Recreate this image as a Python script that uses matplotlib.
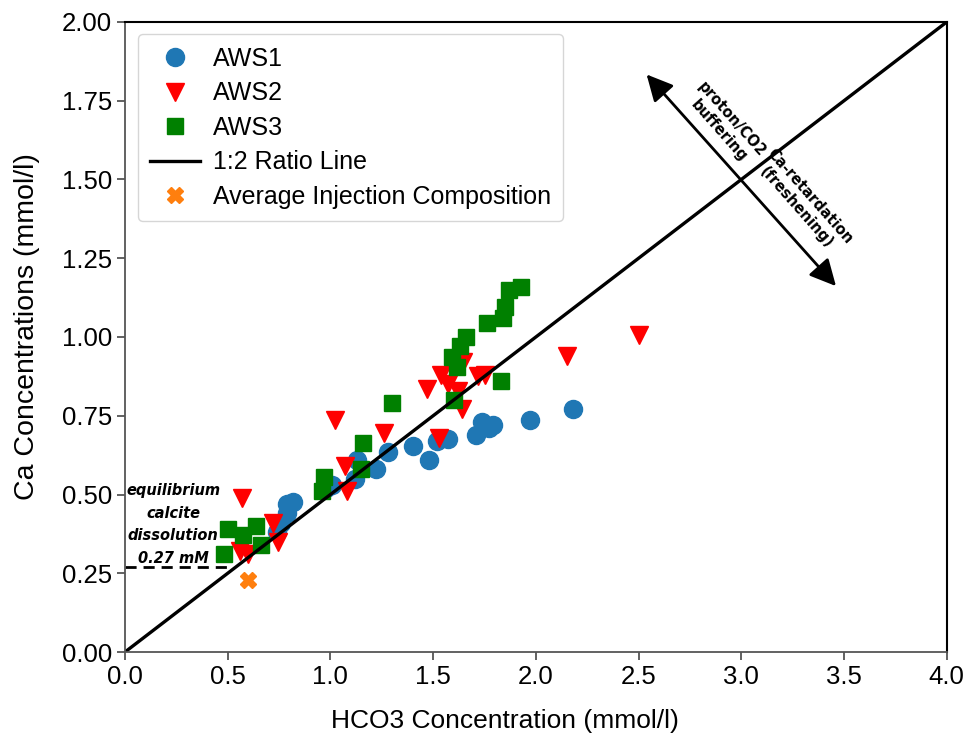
import numpy as np
import matplotlib
matplotlib.use("Agg")
import matplotlib.pyplot as plt

# -----------------------------
# Data
# -----------------------------
aws1_hco3 = [0.74, 0.76, 0.79, 0.79, 0.82, 0.98, 1.01, 1.12, 1.13, 1.22, 1.28,
             1.40, 1.48, 1.52, 1.57, 1.71, 1.74, 1.77, 1.79, 1.97, 2.18]
aws1_ca = [0.38, 0.41, 0.44, 0.47, 0.475, 0.52, 0.53, 0.55, 0.61, 0.58, 0.635,
           0.655, 0.61, 0.67, 0.675, 0.69, 0.73, 0.71, 0.72, 0.735, 0.77]

aws2_hco3 = [0.57, 0.56, 0.60, 0.72, 0.745, 1.02, 1.07, 1.08, 1.26, 1.47, 1.53,
             1.54, 1.57, 1.62, 1.64, 1.645, 1.72, 1.75, 2.15, 2.50]
aws2_ca = [0.49, 0.32, 0.31, 0.41, 0.35, 0.735, 0.59, 0.51, 0.695, 0.835, 0.68,
           0.88, 0.85, 0.83, 0.77, 0.92, 0.875, 0.88, 0.94, 1.005]

aws3_hco3 = [0.48, 0.50, 0.575, 0.64, 0.66, 0.96, 0.97, 1.15, 1.16, 1.30, 1.59,
             1.60, 1.615, 1.63, 1.66, 1.76, 1.83, 1.84, 1.85, 1.87, 1.93]
aws3_ca = [0.31, 0.39, 0.37, 0.40, 0.34, 0.51, 0.555, 0.58, 0.665, 0.79, 0.935,
           0.80, 0.905, 0.97, 1.00, 1.045, 0.86, 1.06, 1.095, 1.15, 1.16]

inj_hco3 = [0.60]
inj_ca = [0.229]

ratio_x = [0, 4]
ratio_y = [0, 2]

eq_ca = 0.27

# -----------------------------
# Plot
# -----------------------------
plt.rcParams["font.family"] = ["Liberation Sans", "DejaVu Sans"]

fig = plt.figure(figsize=(9.69, 7.33), dpi=100)
ax = fig.add_axes([0.129, 0.1105, 0.848, 0.8595])

ax.plot(aws1_hco3, aws1_ca, "o", color="#1f77b4", markersize=13, label="AWS1")
ax.plot(aws2_hco3, aws2_ca, "v", color="red", markersize=13, label="AWS2")
ax.plot(aws3_hco3, aws3_ca, "s", color="green", markersize=12, label="AWS3")
ax.plot(ratio_x, ratio_y, "-", color="black", linewidth=2.4, label="1:2 Ratio Line")
ax.plot(inj_hco3, inj_ca, "X", color="#ff7f0e", markersize=12,
        label="Average Injection Composition")

# equilibrium calcite line
ax.plot([0, 0.51], [eq_ca, eq_ca], "--", color="black", linewidth=2,
        dashes=(4, 2.5))
ax.text(0.235, 0.274, "equilibrium\ncalcite\ndissolution\n0.27 mM",
        ha="center", va="bottom", fontsize=10.5, fontstyle="italic",
        fontweight="bold", linespacing=1.62, family="DejaVu Sans")

# double-headed process arrow
ax.annotate("", xy=(2.53, 1.84), xytext=(3.47, 1.155),
            arrowprops=dict(arrowstyle="<|-|>", color="black", lw=2,
                            mutation_scale=40))
ax.text(2.922, 1.672, "proton/CO2\nbuffering", rotation=-48.5,
        ha="center", va="center", fontsize=10.5, fontweight="bold",
        rotation_mode="anchor", linespacing=1.2, family="DejaVu Sans")
ax.text(3.30, 1.428, "Ca-retardation\n(freshening)", rotation=-48.5,
        ha="center", va="center", fontsize=10.5, fontweight="bold",
        rotation_mode="anchor", linespacing=1.2, family="DejaVu Sans")

ax.set_xlim(0, 4)
ax.set_ylim(0, 2)
ax.set_xticks(np.arange(0, 4.01, 0.5))
ax.set_yticks(np.arange(0, 2.01, 0.25))
ax.set_xticklabels(["%.1f" % v for v in np.arange(0, 4.01, 0.5)])
ax.set_yticklabels(["%.2f" % v for v in np.arange(0, 2.01, 0.25)])
ax.tick_params(labelsize=18.5, length=6, color="#555555", width=1.3)
for side in ["left", "bottom"]:
    ax.spines[side].set_color("#555555")
    ax.spines[side].set_linewidth(1.3)
for side in ["top", "right"]:
    ax.spines[side].set_linewidth(1.5)
ax.set_xlabel("HCO3 Concentration (mmol/l)", fontsize=19)
ax.xaxis.set_label_coords(0.462, -0.09)
ax.set_ylabel("Ca Concentrations (mmol/l)", fontsize=20.5)
ax.yaxis.set_label_coords(-0.103, 0.516)

leg = ax.legend(loc="upper left", fontsize=18, labelspacing=0.42,
                handletextpad=0.5, borderpad=0.5, handlelength=2.0)
leg.get_frame().set_edgecolor("#cccccc")

plt.savefig("out.png", dpi=100)
